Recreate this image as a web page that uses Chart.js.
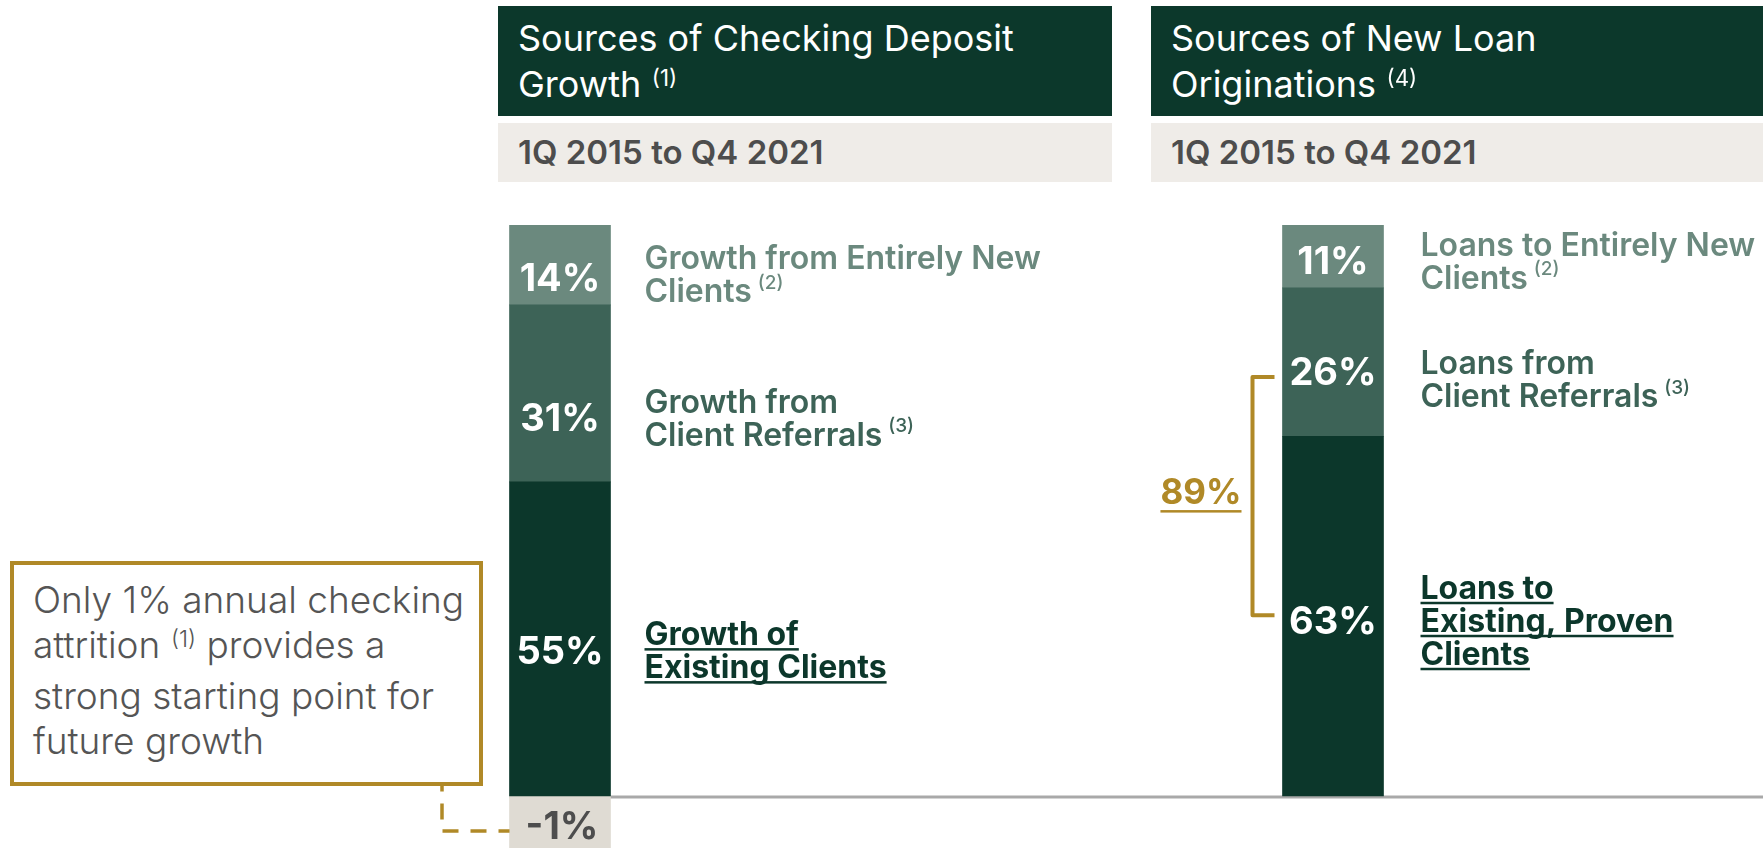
<!DOCTYPE html>
<html>
<head>
<meta charset="utf-8">
<script src="https://cdn.jsdelivr.net/npm/chart.js@4.4.1/dist/chart.umd.min.js"></script>
<style>
  html, body { margin: 0; padding: 0; background: #ffffff; }
  #wrap { position: relative; width: 1763px; height: 848px; overflow: hidden; font-family: Inter, "Open Sans", sans-serif; }
  #chart { position: absolute; left: 0; top: 0; }
  .hdr { position: absolute; top: 6px; height: 110px; background: #0c382b; color: #ffffff; box-sizing: border-box;
         padding: 9px 0 0 20px; font-size: 36px; font-weight: 400; line-height: 46px; white-space: nowrap; }
  .sub { position: absolute; top: 123px; height: 59px; background: #efece8; color: #4d4d4d; box-sizing: border-box;
         padding-left: 20px; font-size: 33px; font-weight: 600; line-height: 59px; white-space: nowrap; }
  .sup { font-size: 0.62em; position: relative; top: -0.5em; margin-left: 0.02em; }
  #note { position: absolute; left: 10px; top: 561px; width: 473px; height: 225px; box-sizing: border-box;
          border: 4px solid #b08927; padding: 12px 0 0 19px; font-size: 37px; font-weight: 300; line-height: 45px;
          color: #555555; white-space: nowrap; background: #ffffff; }
</style>
</head>
<body>
<div id="wrap">
  <canvas id="chart" width="1763" height="848"></canvas>
  <div class="hdr" id="hdr0" style="left:498px;width:614px;"></div>
  <div class="hdr" id="hdr1" style="left:1151px;width:612px;"></div>
  <div class="sub" id="sub0" style="left:498px;width:614px;"></div>
  <div class="sub" id="sub1" style="left:1151px;width:612px;"></div>
  <div id="note"></div>
</div>
<script>
// ---------------- data ----------------
const categories = ['Sources of Checking Deposit Growth', 'Sources of New Loan Originations'];
const existingClients = [55, 63];
const clientReferrals = [31, 26];
const entirelyNewClients = [14, 11];
const checkingAttrition = [-1, null];

const headerTitles = [['Sources of Checking Deposit', 'Growth {(1)}'], ['Sources of New Loan', 'Originations {(4)}']];
const periodLabels = ['1Q 2015 to Q4 2021', '1Q 2015 to Q4 2021'];
const existingLabels = [['Growth of', 'Existing Clients'], ['Loans to', 'Existing, Proven', 'Clients']];
const referralLabels = [['Growth from', 'Client Referrals {(3)}'], ['Loans from', 'Client Referrals {(3)}']];
const newClientLabels = [['Growth from Entirely New', 'Clients {(2)}'], ['Loans to Entirely New', 'Clients {(2)}']];
const noteLines = ['Only 1% annual checking', 'attrition {(1)} provides a', 'strong starting point for', 'future growth'];

// ---------------- html text ----------------
function toHtml(s) {
  return s.replace(/\{([^}]*)\}/g, '<span class="sup">$1</span>');
}
headerTitles.forEach((lines, i) => { document.getElementById('hdr' + i).innerHTML = lines.map(toHtml).join('<br>'); });
periodLabels.forEach((t, i) => { document.getElementById('sub' + i).textContent = t; });
document.getElementById('note').innerHTML = noteLines.map(toHtml).join('<br>');

// ---------------- colors ----------------
const C_DARK = '#0c372b', C_MID = '#3d6357', C_LIGHT = '#6b897e', C_BEIGE = '#dfdbd3', C_GOLD = '#b08927', C_GREY = '#4d4d4d';
const FONT = 'Inter, "Open Sans", sans-serif';

// draw a line of text with optional {superscript} parts
function drawRich(ctx, str, x, y, size, weight, color, underline) {
  const parts = str.split(/(\{[^}]*\})/).filter(p => p.length);
  let cx = x, mainEnd = x;
  for (const p of parts) {
    if (p[0] === '{') {
      const t = p.slice(1, -1);
      ctx.font = `${weight === 700 ? 600 : 500} ${Math.round(size * 0.6)}px ${FONT}`;
      ctx.fillStyle = color;
      ctx.fillText(t, cx, y - size * 0.42);
      cx += ctx.measureText(t).width;
    } else {
      ctx.font = `${weight} ${size}px ${FONT}`;
      ctx.fillStyle = color;
      const t = p.replace(/\s+$/, '');
      ctx.fillText(p, cx, y);
      mainEnd = cx + ctx.measureText(t).width;
      cx += ctx.measureText(t).width + (t.length < p.length ? size * 0.18 : 0);
    }
  }
  if (underline) {
    ctx.fillStyle = color;
    ctx.fillRect(x, y + 3, mainEnd - x, 2.5);
  }
}

const overlay = {
  id: 'overlay',
  beforeDatasetsDraw(chart) {
    const ctx = chart.ctx;
    const y0 = chart.scales.y.getPixelForValue(0);
    const b = chart.getDatasetMeta(0).data[0];
    ctx.save();
    ctx.strokeStyle = '#a9a9a9';
    ctx.lineWidth = 3;
    ctx.beginPath();
    ctx.moveTo(b.x - b.width / 2, y0 + 1);
    ctx.lineTo(chart.width, y0 + 1);
    ctx.stroke();
    ctx.restore();
  },
  afterDatasetsDraw(chart) {
    const ctx = chart.ctx;
    ctx.save();
    ctx.textBaseline = 'alphabetic';
    const valueSize = 38, cap = 0.727;
    const centerOffsets = [[11, 24, 12], [4, 9, 4]];
    const sideShift = [[0, 0, -3], [0, 8, 0]];
    const sideX = [34, 37];
    const labelSets = [existingLabels, referralLabels, newClientLabels];
    const sideColors = [C_DARK, C_MID, C_LIGHT];
    const centers = [[], []];
    for (let i = 0; i < categories.length; i++) {
      for (let d = 0; d < 3; d++) {
        const el = chart.getDatasetMeta(d).data[i];
        const raw = chart.data.datasets[d].data[i];
        const cy = (el.y + el.base) / 2 + centerOffsets[i][d];
        centers[i][d] = cy;
        // value label
        ctx.font = `700 ${valueSize}px ${FONT}`;
        ctx.fillStyle = '#ffffff';
        ctx.textAlign = 'center';
        ctx.fillText(raw + '%', el.x, cy + valueSize * cap / 2);
        // side label
        ctx.textAlign = 'left';
        const lines = labelSets[d][i];
        const size = 32, lh = 33;
        const n = lines.length;
        const x = el.x + el.width / 2 + sideX[i];
        lines.forEach((ln, k) => {
          const by = cy + size * cap / 2 + (k - (n - 1) / 2) * lh + sideShift[i][d];
          drawRich(ctx, ln, x, by, size, d === 0 ? 700 : 600, sideColors[d], d === 0);
        });
      }
    }
    // attrition bar label
    const at = chart.getDatasetMeta(3).data[0];
    const atCenter = (at.y + at.base) / 2;
    ctx.font = `700 ${valueSize}px ${FONT}`;
    ctx.fillStyle = C_GREY;
    ctx.textAlign = 'center';
    ctx.fillText(checkingAttrition[0] + '%', at.x + 2, atCenter + 3 + valueSize * cap / 2);

    // dashed connector from note box to the attrition bar
    const leftEdge = at.x - at.width / 2;
    ctx.strokeStyle = C_GOLD;
    ctx.lineWidth = 3.5;
    ctx.setLineDash([16, 12]);
    ctx.lineDashOffset = 5;
    ctx.beginPath();
    ctx.moveTo(leftEdge, atCenter + 9);
    ctx.lineTo(442, atCenter + 9);
    ctx.lineTo(442, 786);
    ctx.stroke();
    ctx.setLineDash([]);

    // bracket for existing + referrals (loans)
    const lb = chart.getDatasetMeta(0).data[1];
    const barLeft = lb.x - lb.width / 2;
    const top = centers[1][1] + 6, bottom = centers[1][0] - 5;
    const bx = barLeft - 30;
    ctx.strokeStyle = C_GOLD;
    ctx.lineWidth = 4;
    ctx.lineJoin = 'round';
    ctx.beginPath();
    ctx.moveTo(barLeft - 8, top);
    ctx.lineTo(bx, top);
    ctx.lineTo(bx, bottom);
    ctx.lineTo(barLeft - 8, bottom);
    ctx.stroke();
    const total = existingClients[1] + clientReferrals[1];
    const txt = total + '%';
    ctx.font = `700 35px ${FONT}`;
    ctx.fillStyle = C_GOLD;
    ctx.textAlign = 'right';
    const ty = (top + bottom) / 2 + 8;
    ctx.fillText(txt, barLeft - 41, ty);
    const w = ctx.measureText(txt).width;
    ctx.fillRect(barLeft - 41 - w, ty + 6, w, 2.5);
    ctx.restore();
  }
};

new Chart(document.getElementById('chart'), {
  type: 'bar',
  data: {
    labels: categories,
    datasets: [
      { label: 'Existing clients', data: existingClients, backgroundColor: C_DARK, stack: 's', yAxisID: 'y' },
      { label: 'Client referrals', data: clientReferrals, backgroundColor: C_MID, stack: 's', yAxisID: 'y' },
      { label: 'Entirely new clients', data: entirelyNewClients, backgroundColor: C_LIGHT, stack: 's', yAxisID: 'y' },
      { label: 'Attrition', data: checkingAttrition, backgroundColor: C_BEIGE, stack: 's', yAxisID: 'yNeg' }
    ]
  },
  options: {
    responsive: false,
    animation: false,
    events: [],
    layout: { padding: { left: 173.5, right: 43.5, top: 225, bottom: 0 } },
    datasets: { bar: { barThickness: 101, borderWidth: 0 } },
    plugins: { legend: { display: false }, tooltip: { enabled: false } },
    scales: {
      x: { display: false, stacked: true, offset: true },
      y: { display: false, stacked: true, min: -9.1068, max: 100 },
      yNeg: { display: false, stacked: true, min: -1, max: 10.981 }
    }
  },
  plugins: [overlay]
});
</script>
</body>
</html>
